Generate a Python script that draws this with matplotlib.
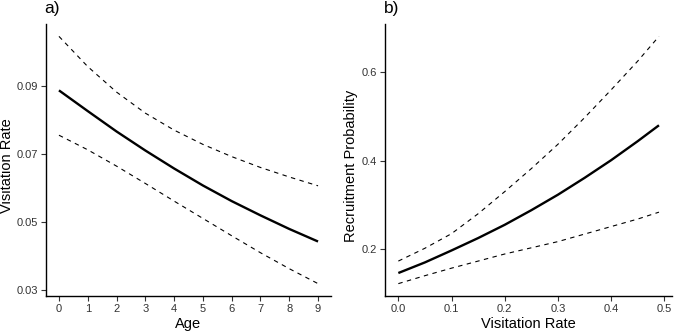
import matplotlib
matplotlib.use("Agg")
import matplotlib.pyplot as plt

plt.rcParams['font.family'] = ['Liberation Sans', 'DejaVu Sans']

# Panel a data
age = [0, 1, 2, 3, 4, 5, 6, 7, 8, 9]
visit_fit = [0.0887, 0.0826, 0.0766, 0.0710, 0.0657, 0.0607, 0.0561, 0.0519, 0.0479, 0.0442]
visit_upper = [0.1046, 0.0957, 0.0882, 0.0820, 0.0770, 0.0728, 0.0692, 0.0660, 0.0632, 0.0606]
visit_lower = [0.0755, 0.0712, 0.0664, 0.0613, 0.0561, 0.0510, 0.0459, 0.0409, 0.0362, 0.0318]
a_yticks = [0.03, 0.05, 0.07, 0.09]
a_xticks = [0, 1, 2, 3, 4, 5, 6, 7, 8, 9]

# Panel b data
vrate = [0.0, 0.05, 0.10, 0.15, 0.20, 0.25, 0.30, 0.35, 0.40, 0.45, 0.49]
recr_fit = [0.146, 0.170, 0.197, 0.225, 0.255, 0.288, 0.323, 0.361, 0.401, 0.444, 0.480]
recr_upper = [0.173, 0.202, 0.235, 0.280, 0.330, 0.382, 0.437, 0.497, 0.560, 0.625, 0.681]
recr_lower = [0.122, 0.140, 0.157, 0.173, 0.189, 0.203, 0.217, 0.234, 0.251, 0.268, 0.2836]
b_yticks = [0.2, 0.4, 0.6]
b_xticks = [0.0, 0.1, 0.2, 0.3, 0.4, 0.5]

W, H = 677, 332
fig = plt.figure(figsize=(W / 100, H / 100), dpi=100)
ax1 = fig.add_axes([46 / W, 36 / H, 285 / W, 272 / H])
ax2 = fig.add_axes([385.3 / W, 36 / H, 286.7 / W, 272 / H])


def style(ax):
    for s in ['top', 'right']:
        ax.spines[s].set_visible(False)
    for s in ['left', 'bottom']:
        ax.spines[s].set_linewidth(1.0)
        ax.spines[s].set_color('black')
    ax.tick_params(axis='both', length=3.8, width=0.8, color='#333333',
                   labelsize=8, labelcolor='#333333', pad=2.2)


def expand(lo, hi, f=0.05):
    r = hi - lo
    return lo - f * r, hi + f * r


dash = dict(color='black', lw=0.8, linestyle=(0, (4, 4)))

ax1.plot(age, visit_upper, **dash)
ax1.plot(age, visit_lower, **dash)
ax1.plot(age, visit_fit, color='black', lw=1.7, solid_capstyle='butt')
ax1.set_xlim(*expand(min(age), max(age)))
ax1.set_ylim(*expand(min(visit_lower), max(visit_upper)))
ax1.set_xticks(a_xticks)
ax1.set_yticks(a_yticks)
ax1.set_yticklabels([f"{v:.2f}" for v in a_yticks])
ax1.set_xlabel("Age", fontsize=10.5, labelpad=2)
ax1.set_ylabel("Visitation Rate", fontsize=10.5)
ax1.yaxis.set_label_coords(14 / W, 0.5, transform=fig.transFigure)
style(ax1)

ax2.plot(vrate, recr_upper, **dash)
ax2.plot(vrate, recr_lower, **dash)
ax2.plot(vrate, recr_fit, color='black', lw=1.7, solid_capstyle='butt')
ax2.set_xlim(*expand(min(vrate), max(vrate)))
ax2.set_ylim(*expand(min(recr_lower), max(recr_upper)))
ax2.set_xticks(b_xticks)
ax2.set_xticklabels([f"{v:.1f}" for v in b_xticks])
ax2.set_yticks(b_yticks)
ax2.set_yticklabels([f"{v:.1f}" for v in b_yticks])
ax2.set_xlabel("Visitation Rate", fontsize=10.5, labelpad=2)
ax2.set_ylabel("Recruitment Probability", fontsize=10.5)
ax2.yaxis.set_label_coords(358 / W, 0.5, transform=fig.transFigure)
style(ax2)

fig.text(44 / W, 1 - 0.5 / H, "a)", fontsize=12.5, ha='left', va='top')
fig.text(384 / W, 1 - 0.5 / H, "b)", fontsize=12.5, ha='left', va='top')

fig.savefig("out.png", dpi=100)
